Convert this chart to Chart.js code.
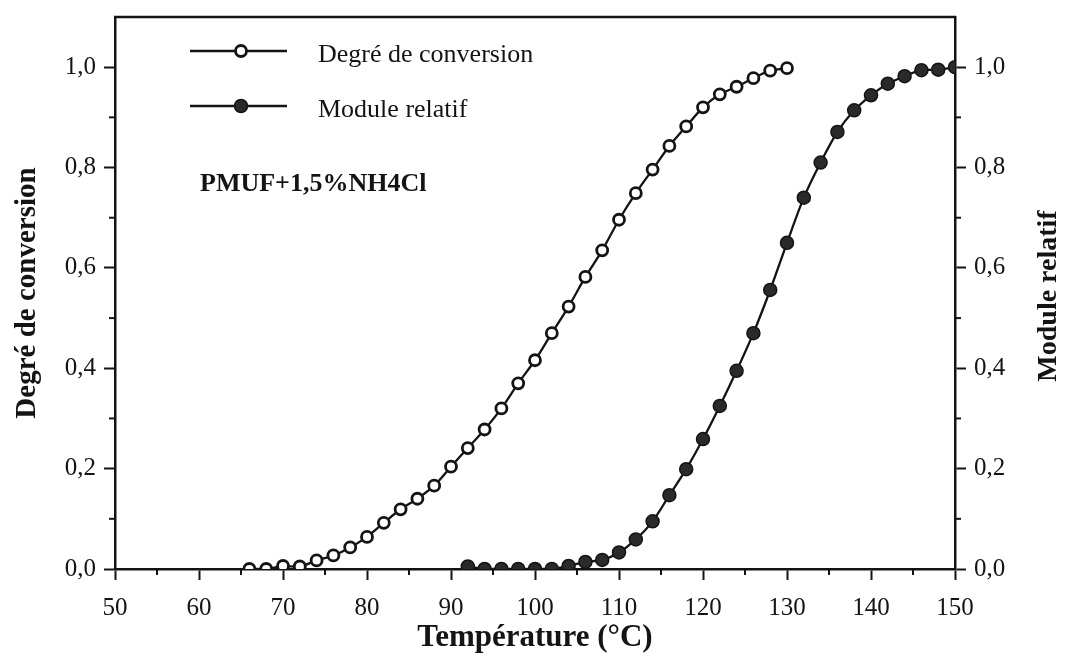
<!DOCTYPE html>
<html>
<head>
<meta charset="utf-8">
<script src="https://cdn.jsdelivr.net/npm/chart.js@4/dist/chart.umd.min.js"></script>
<style>
  html, body { margin: 0; padding: 0; background: #fff; }
  #wrap { width: 1065px; height: 660px; }
</style>
</head>
<body>
<div id="wrap"><canvas id="chart" width="1065" height="660"></canvas></div>
<script>
// Degré de conversion (open circles)
const tempConv = [66, 68, 70, 72, 74, 76, 78, 80, 82, 84, 86, 88, 90, 92, 94, 96, 98, 100,
                  102, 104, 106, 108, 110, 112, 114, 116, 118, 120, 122, 124, 126, 128, 130];
const conversion = [0.0, 0.0, 0.006, 0.005, 0.017, 0.027, 0.043, 0.064, 0.092, 0.119, 0.14, 0.166,
                    0.204, 0.241, 0.278, 0.32, 0.37, 0.416, 0.47, 0.523, 0.582, 0.635, 0.696, 0.749,
                    0.796, 0.843, 0.882, 0.92, 0.946, 0.961, 0.978, 0.993, 0.998];

// Module relatif (filled circles)
const tempModule = [92, 94, 96, 98, 100, 102, 104, 106, 108, 110, 112, 114, 116, 118, 120,
                    122, 124, 126, 128, 130, 132, 134, 136, 138, 140, 142, 144, 146, 148, 150];
const moduleRel = [0.005, 0.0, 0.0, 0.0, 0.0, 0.0, 0.006, 0.014, 0.018, 0.033, 0.059, 0.095, 0.147,
                   0.199, 0.259, 0.325, 0.395, 0.47, 0.556, 0.65, 0.74, 0.81, 0.871, 0.914, 0.944,
                   0.967, 0.982, 0.994, 0.995, 1.0];

const xMajor = [50, 60, 70, 80, 90, 100, 110, 120, 130, 140, 150];
const yMajor = [0.0, 0.2, 0.4, 0.6, 0.8, 1.0];

const legendLabels = ['Degré de conversion', 'Module relatif'];
const noteText = 'PMUF+1,5%NH4Cl';
const rightTitle = 'Module relatif';

const SERIF = '"Liberation Serif", "Times New Roman", serif';
const INK = '#141414';

function toPoints(xs, ys) {
  return xs.map((x, i) => ({ x: x, y: ys[i] }));
}

function isMajorY(v) {
  return yMajor.some(m => Math.abs(m - v) < 1e-6);
}
function isMajorX(v) {
  return xMajor.some(m => Math.abs(m - v) < 1e-6);
}

function yLabel(v) {
  return isMajorY(v) ? v.toFixed(1).replace('.', ',') : '';
}

// minor ticks, top frame line, legend, note and right title
const decorations = {
  id: 'decorations',
  afterDraw(chart) {
    const { ctx, chartArea: a, scales } = chart;
    ctx.save();
    ctx.strokeStyle = INK;
    ctx.lineWidth = 2.5;

    // top frame
    ctx.beginPath();
    ctx.moveTo(a.left - 1, a.top);
    ctx.lineTo(a.right + 1, a.top);
    ctx.stroke();

    // minor ticks
    ctx.lineWidth = 2;
    scales.x.ticks.forEach(t => {
      if (!isMajorX(t.value)) {
        const px = scales.x.getPixelForValue(t.value);
        ctx.beginPath();
        ctx.moveTo(px, a.bottom);
        ctx.lineTo(px, a.bottom + 6);
        ctx.stroke();
      }
    });
    scales.y.ticks.forEach(t => {
      if (!isMajorY(t.value) && t.value < 1.05) {
        const py = scales.y.getPixelForValue(t.value);
        ctx.beginPath();
        ctx.moveTo(a.left, py);
        ctx.lineTo(a.left - 6, py);
        ctx.stroke();
        ctx.beginPath();
        ctx.moveTo(a.right, py);
        ctx.lineTo(a.right + 6, py);
        ctx.stroke();
      }
    });

    // legend
    const rows = [
      { y: 51, fill: '#ffffff', r: 5.5, w: 2.8 },
      { y: 106, fill: '#2a2a2a', r: 6.5, w: 1.5 }
    ];
    rows.forEach((row, i) => {
      ctx.lineWidth = 2.5;
      ctx.strokeStyle = INK;
      ctx.beginPath();
      ctx.moveTo(190, row.y);
      ctx.lineTo(287, row.y);
      ctx.stroke();
      ctx.beginPath();
      ctx.arc(241, row.y, row.r, 0, Math.PI * 2);
      ctx.fillStyle = row.fill;
      ctx.fill();
      ctx.lineWidth = row.w;
      ctx.stroke();
      ctx.fillStyle = INK;
      ctx.font = '26px ' + SERIF;
      ctx.textAlign = 'left';
      ctx.textBaseline = 'middle';
      ctx.fillText(legendLabels[i], 318, row.y + 4);
    });

    // note
    ctx.font = 'bold 26px ' + SERIF;
    ctx.fillText(noteText, 200, 184);

    // right axis title, rotated like the left one
    ctx.translate(1049, 296);
    ctx.rotate(-Math.PI / 2);
    ctx.font = 'bold 28px ' + SERIF;
    ctx.textAlign = 'center';
    ctx.fillText(rightTitle, 0, 0);
    ctx.restore();
  }
};

function fitY(width) {
  return s => {
    s.width = width;
    s.paddingTop = 0;
    s.paddingBottom = 0;
  };
}

const yScaleBase = {
  type: 'linear',
  min: 0,
  max: 1.1,
  border: { color: INK, width: 2.5 },
  grid: {
    drawOnChartArea: false,
    tickLength: 11,
    tickWidth: 2,
    tickColor: c => (c.tick && isMajorY(c.tick.value)) ? INK : 'rgba(0,0,0,0)'
  },
  ticks: {
    stepSize: 0.1,
    color: INK,
    font: { family: SERIF, size: 25 },
    callback: v => yLabel(v)
  }
};

new Chart(document.getElementById('chart'), {
  type: 'line',
  data: {
    datasets: [
      {
        label: legendLabels[0],
        data: toPoints(tempConv, conversion),
        yAxisID: 'y',
        borderColor: INK,
        borderWidth: 2.3,
        tension: 0.3,
        pointRadius: 5.5,
        pointBorderWidth: 2.8,
        pointBackgroundColor: '#ffffff',
        pointBorderColor: INK
      },
      {
        label: legendLabels[1],
        data: toPoints(tempModule, moduleRel),
        yAxisID: 'y2',
        borderColor: INK,
        borderWidth: 2.3,
        tension: 0.3,
        pointRadius: 6.5,
        pointBorderWidth: 1.5,
        pointBackgroundColor: '#2a2a2a',
        pointBorderColor: INK
      }
    ]
  },
  options: {
    responsive: false,
    animation: false,
    layout: { padding: { top: 17, left: 0, right: 0, bottom: 0 } },
    plugins: {
      legend: { display: false },
      tooltip: { enabled: false }
    },
    scales: {
      x: {
        type: 'linear',
        position: 'bottom',
        min: 50,
        max: 150,
        afterFit: s => { s.height = 91; },
        border: { color: INK, width: 2.5 },
        grid: {
          drawOnChartArea: false,
          tickLength: 11,
          tickWidth: 2,
          tickColor: c => (c.tick && isMajorX(c.tick.value)) ? INK : 'rgba(0,0,0,0)'
        },
        ticks: {
          stepSize: 5,
          maxRotation: 0,
          autoSkip: false,
          padding: 13,
          color: INK,
          font: { family: SERIF, size: 25 },
          callback: v => isMajorX(v) ? String(v) : ''
        },
        title: {
          display: true,
          text: 'Température (°C)',
          color: INK,
          font: { family: SERIF, size: 31, weight: 'bold' },
          padding: { top: 0, bottom: 3 }
        }
      },
      y: Object.assign({}, yScaleBase, {
        position: 'left',
        afterFit: fitY(115),
        ticks: Object.assign({}, yScaleBase.ticks, { padding: 8 }),
        title: {
          display: true,
          text: 'Degré de conversion',
          color: INK,
          font: { family: SERIF, size: 29, weight: 'bold' },
          padding: { top: 10, bottom: 0 }
        }
      }),
      y2: Object.assign({}, yScaleBase, {
        position: 'right',
        afterFit: fitY(110),
        ticks: Object.assign({}, yScaleBase.ticks, { padding: 8 })
      })
    }
  },
  plugins: [decorations]
});
</script>
</body>
</html>
